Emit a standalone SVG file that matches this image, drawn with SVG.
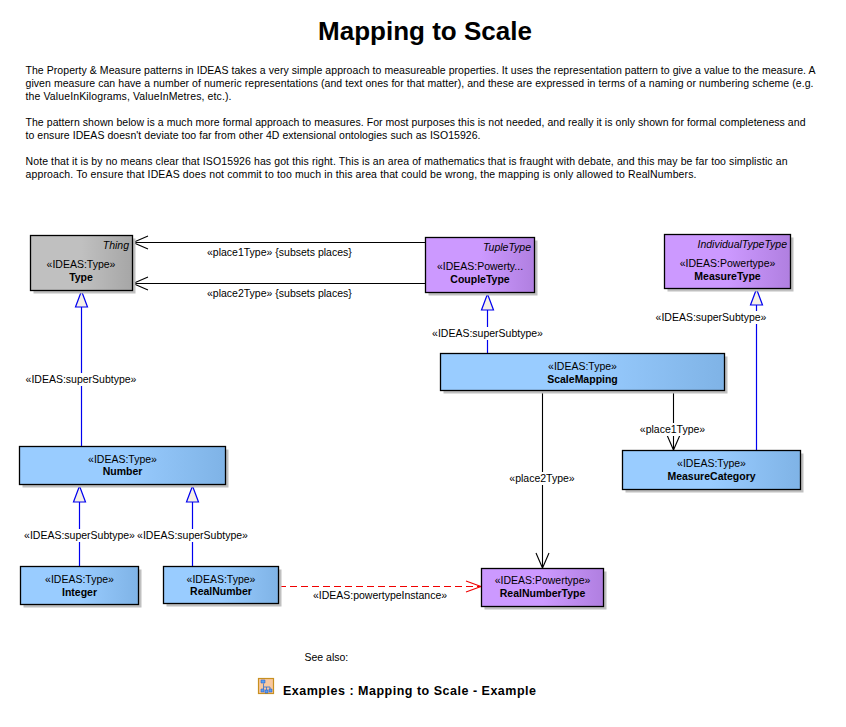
<svg xmlns="http://www.w3.org/2000/svg" width="846" height="727" viewBox="0 0 846 727">
<style>
text{font-family:"Liberation Sans",Arial,sans-serif;font-size:10.5px;fill:#000}
.t{font-size:26px;font-weight:bold}
.c{text-anchor:middle}
.n{font-weight:bold;text-anchor:middle}
.i{font-style:italic;text-anchor:end}
.h{font-size:12.500px;font-weight:bold}
.box{stroke:#000;stroke-width:1.3}
.sh{fill:#c0c0c0}
.l{fill:none;stroke:#000;stroke-width:1.1}
.b{fill:none;stroke:#0000f0;stroke-width:1.2}
.tri{fill:#f5f0e6;stroke:#0000f0;stroke-width:1.2}
.lab{fill:#fff}
</style>
<defs>
<linearGradient id="gb"><stop offset="0.5" stop-color="#99ccff"/><stop offset="1" stop-color="#7fb3e6"/></linearGradient>
<linearGradient id="gp"><stop offset="0.5" stop-color="#cc99ff"/><stop offset="1" stop-color="#b07fe0"/></linearGradient>
<linearGradient id="gg"><stop offset="0.5" stop-color="#c0c0c0"/><stop offset="1" stop-color="#a6a6a6"/></linearGradient>
</defs>
<text class="t c" x="425" y="39.500">Mapping to Scale</text>
<g id="intro">
<text x="25.500" y="74" textLength="790" lengthAdjust="spacing">The Property &amp; Measure patterns in IDEAS takes a very simple approach to measureable properties. It uses the representation pattern to give a value to the measure. A</text>
<text x="25.500" y="87" textLength="788" lengthAdjust="spacing">given measure can have a number of numeric representations (and text ones for that matter), and these are expressed in terms of a naming or numbering scheme (e.g.</text>
<text x="25.500" y="100" textLength="206" lengthAdjust="spacing">the ValueInKilograms, ValueInMetres, etc.).</text>
<text x="25.500" y="126" textLength="780" lengthAdjust="spacing">The pattern shown below is a much more formal approach to measures. For most purposes this is not needed, and really it is only shown for formal completeness and</text>
<text x="25.500" y="139" textLength="455" lengthAdjust="spacing">to ensure IDEAS doesn't deviate too far from other 4D extensional ontologies such as ISO15926.</text>
<text x="25.500" y="165" textLength="762" lengthAdjust="spacing">Note that it is by no means clear that ISO15926 has got this right. This is an area of mathematics that is fraught with debate, and this may be far too simplistic an</text>
<text x="25.500" y="178" textLength="671" lengthAdjust="spacing">approach. To ensure that IDEAS does not commit to too much in this area that could be wrong, the mapping is only allowed to RealNumbers.</text>
</g>
<g id="connectors">
<path class="l" d="M425.500 242.500H133M148 236L133 242.500L148 249M425.500 283.500H133M148 277L133 283.500L148 290"/>
<path class="b" d="M81.500 307V446"/>
<path class="tri" d="M81.500 291L75.500 307H87.500Z"/>
<path class="b" d="M487.500 310V353"/>
<path class="tri" d="M487.500 294L481.500 310H493.500Z"/>
<path class="b" d="M756.500 305V450"/>
<path class="tri" d="M756.500 289L750.500 305H762.500Z"/>
<path class="b" d="M79.500 502V566M192.500 502V566"/>
<path class="tri" d="M79.500 486L73.500 502H85.500ZM192.500 486L186.500 502H198.500Z"/>
<path class="l" d="M542.500 391V568M536 553L542.500 568L549 553"/>
<path class="l" d="M673.500 391V450M667 435L673.500 450L680 435"/>
<path d="M279 586.500H481" fill="none" stroke="#f00000" stroke-width="1.1" stroke-dasharray="7 4"/>
<path d="M466 581L481 586.500L466 592" fill="none" stroke="#f00000" stroke-width="1.1"/>
<g>
<rect class="lab" x="205" y="246" width="150" height="13"/><text x="207" y="256">«place1Type» {subsets places}</text>
<rect class="lab" x="205" y="287" width="150" height="13"/><text x="207" y="297">«place2Type» {subsets places}</text>
<rect class="lab" x="25" y="373" width="112" height="13"/><text class="c" x="81" y="383">«IDEAS:superSubtype»</text>
<rect class="lab" x="431" y="327" width="113" height="13"/><text class="c" x="487.500" y="337">«IDEAS:superSubtype»</text>
<rect class="lab" x="655" y="311" width="112" height="13"/><text class="c" x="711" y="321">«IDEAS:superSubtype»</text>
<rect class="lab" x="23" y="529" width="112" height="13"/><text class="c" x="79.500" y="539">«IDEAS:superSubtype»</text>
<rect class="lab" x="136" y="529" width="112" height="13"/><text class="c" x="192.500" y="539">«IDEAS:superSubtype»</text>
<rect class="lab" x="508" y="472" width="68" height="13"/><text class="c" x="542" y="482">«place2Type»</text>
<rect class="lab" x="639" y="423" width="68" height="13"/><text class="c" x="672.500" y="433">«place1Type»</text>
<text class="c" x="380" y="599">«IDEAS:powertypeInstance»</text>
</g>
</g>
<g id="thing"><rect class="sh" x="33.500" y="238.500" width="102" height="55"/><rect class="box" x="30.500" y="235.500" width="102" height="55" fill="url(#gg)"/>
<text class="i" x="129" y="249">Thing</text><text class="c" x="81" y="268">«IDEAS:Type»</text><text class="n" x="81" y="281">Type</text></g>
<g id="coupletype"><rect class="sh" x="428.500" y="240.500" width="109" height="55"/><rect class="box" x="425.500" y="237.500" width="109" height="55" fill="url(#gp)"/>
<text class="i" x="531" y="251">TupleType</text><text class="c" x="480" y="270">«IDEAS:Powerty...</text><text class="n" x="480" y="283">CoupleType</text></g>
<g id="measuretype"><rect class="sh" x="667.500" y="237.500" width="126" height="54"/><rect class="box" x="664.500" y="234.500" width="126" height="54" fill="url(#gp)"/>
<text class="i" x="787" y="248">IndividualTypeType</text><text class="c" x="727.500" y="267">«IDEAS:Powertype»</text><text class="n" x="727.500" y="280">MeasureType</text></g>
<g id="scalemapping"><rect class="sh" x="443.500" y="356.500" width="284" height="37"/><rect class="box" x="440.500" y="353.500" width="284" height="37" fill="url(#gb)"/>
<text class="c" x="582.500" y="370">«IDEAS:Type»</text><text class="n" x="582.500" y="383">ScaleMapping</text></g>
<g id="measurecategory"><rect class="sh" x="625.500" y="453.500" width="178" height="39"/><rect class="box" x="622.500" y="450.500" width="178" height="39" fill="url(#gb)"/>
<text class="c" x="711.500" y="467">«IDEAS:Type»</text><text class="n" x="711.500" y="480">MeasureCategory</text></g>
<g id="number"><rect class="sh" x="22.500" y="449.500" width="206" height="38"/><rect class="box" x="19.500" y="446.500" width="206" height="38" fill="url(#gb)"/>
<text class="c" x="122.500" y="463">«IDEAS:Type»</text><text class="n" x="122.500" y="475">Number</text></g>
<g id="integer"><rect class="sh" x="23.500" y="569.500" width="118" height="38"/><rect class="box" x="20.500" y="566.500" width="118" height="38" fill="url(#gb)"/>
<text class="c" x="79.500" y="583">«IDEAS:Type»</text><text class="n" x="79.500" y="596">Integer</text></g>
<g id="realnumber"><rect class="sh" x="166.500" y="569.500" width="115" height="37"/><rect class="box" x="163.500" y="566.500" width="115" height="37" fill="url(#gb)"/>
<text class="c" x="221" y="583">«IDEAS:Type»</text><text class="n" x="221" y="595">RealNumber</text></g>
<g id="realnumbertype"><rect class="sh" x="484.500" y="571.500" width="122" height="38"/><rect class="box" x="481.500" y="568.500" width="122" height="38" fill="url(#gp)"/>
<text class="c" x="542.500" y="584">«IDEAS:Powertype»</text><text class="n" x="542.500" y="597">RealNumberType</text></g>
<text x="304.500" y="661">See also:</text>
<g id="example-link">
<rect x="258.500" y="678.500" width="15" height="15" fill="#f8c8a0" stroke="#c89020" stroke-width="1.200"/>
<path d="M263.500 683.500V687M263.500 687H270V689M263.500 687V689M266.500 687V691" fill="none" stroke="#3070d0" stroke-width="0.800"/>
<path d="M261 680h4v3h-4zM261 689h3v3h-3zM265 690h3v3h-3zM269 689h3v3h-3z" fill="#5aa0f0" stroke="#2050c0" stroke-width="0.500"/>
<text class="h" x="283" y="695" textLength="253" lengthAdjust="spacing">Examples : Mapping to Scale - Example</text>
</g>
</svg>
